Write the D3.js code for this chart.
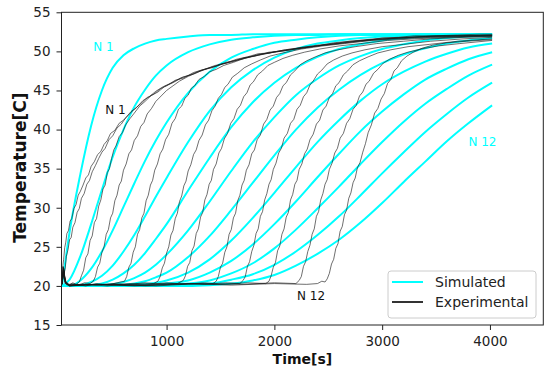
<!DOCTYPE html>
<html>
<head>
<meta charset="utf-8">
<script src="https://cdn.jsdelivr.net/npm/d3@7/dist/d3.min.js"></script>
<style>
body { margin: 0; background: #fff; }
svg { display: block; font-family: "DejaVu Sans", sans-serif; }
</style>
</head>
<body>
<svg id="chart"></svg>
<script>
// ---- data ----
// simulated curves, all on the same time grid
const simTime = [30,100,200,300,400,500,600,700,800,900,1000,1200,1400,1600,1800,2000,2200,2400,2600,2800,3000,3200,3400,3600,3800,4020]
const sim1  = [20.0,26.9,34.3,40.5,45.0,47.9,49.5,50.4,51.0,51.4,51.6,51.9,52.1,52.1,52.2,52.2,52.2,52.2,52.2,52.2,52.2,52.2,52.2,52.2,52.2,52.2]
const sim2  = [20.0,20.8,23.8,27.9,32.3,36.5,40.0,42.9,45.1,46.9,48.2,49.9,50.9,51.5,51.8,52.0,52.1,52.1,52.2,52.2,52.2,52.2,52.2,52.2,52.2,52.2]
const sim3  = [20.0,20.0,20.7,22.2,24.4,27.1,30.1,33.1,36.0,38.6,40.9,44.7,47.4,49.2,50.3,51.1,51.5,51.8,52.0,52.1,52.1,52.1,52.2,52.2,52.2,52.2]
const sim4  = [20.0,20.0,20.1,20.5,21.3,22.6,24.4,26.5,28.9,31.4,33.8,38.4,42.4,45.4,47.6,49.2,50.3,51.0,51.4,51.7,51.9,52.0,52.1,52.1,52.1,52.2]
const sim5  = [20.0,20.0,20.0,20.1,20.3,20.8,21.6,22.7,24.2,26.0,27.9,32.2,36.4,40.3,43.5,46.0,47.9,49.3,50.3,50.9,51.4,51.7,51.9,52.0,52.1,52.1]
const sim6  = [20.0,20.0,20.0,20.0,20.1,20.2,20.5,21.0,21.7,22.7,24.0,27.1,30.8,34.7,38.4,41.6,44.4,46.5,48.2,49.4,50.3,50.9,51.4,51.7,51.9,52.0]
const sim7  = [20.0,20.0,20.0,20.0,20.0,20.0,20.1,20.3,20.6,21.1,21.7,23.7,26.4,29.7,33.2,36.7,40.0,42.8,45.1,47.0,48.5,49.6,50.4,51.0,51.4,51.7]
const sim8  = [20.0,20.0,20.0,20.0,20.0,20.0,20.0,20.1,20.2,20.4,20.7,21.7,23.4,25.8,28.7,31.9,35.2,38.4,41.2,43.7,45.8,47.4,48.7,49.7,50.5,51.0]
const sim9  = [20.0,20.0,20.0,20.0,20.0,20.0,20.0,20.0,20.1,20.1,20.3,20.7,21.7,23.2,25.3,27.9,30.8,33.9,36.9,39.8,42.3,44.5,46.4,47.8,49.0,49.9]
const sim10 = [20.0,20.0,20.0,20.0,20.0,20.0,20.0,20.0,20.0,20.0,20.1,20.3,20.7,21.6,22.9,24.8,27.2,29.9,32.7,35.6,38.4,41.0,43.3,45.2,46.9,48.3]
const sim11 = [20.0,20.0,20.0,20.0,20.0,20.0,20.0,20.0,20.0,20.0,20.0,20.1,20.3,20.8,21.5,22.7,24.4,26.5,28.9,31.6,34.4,37.1,39.7,42.0,44.1,46.0]
const sim12 = [20.0,20.0,20.0,20.0,20.0,20.0,20.0,20.0,20.0,20.0,20.0,20.0,20.1,20.3,20.7,21.4,22.6,24.1,25.9,28.1,30.6,33.3,35.9,38.5,40.8,43.1]

// experimental curves, [time, temperature]
const exp1 = [[30,20.2],[38,22.6],[45,23.4],[55,24.9],[65,25.6],[75,26.7],[90,27.1],[105,28.3],[120,28.6],[140,29.9],[160,30.4],[180,31.6],[200,32.1],[225,32.9],[250,33.8],[275,34.2],[300,35.3],[330,35.9],[360,36.8],[390,37.2],[420,38.1],[450,38.6],[480,39.5],[520,39.9],[560,40.8],[600,41.2],[650,41.9],[700,42.6],[760,43.3],[820,44.1],[880,44.5],[940,45.2],[1000,45.6],[1080,46.3],[1160,46.6],[1250,47.3],[1350,47.7],[1450,48.2],[1550,48.5],[1650,49.0],[1750,49.3],[1850,49.7],[1950,49.8],[2100,50.2],[2250,50.5],[2400,50.7],[2550,51.1],[2700,51.3],[2850,51.5],[3000,51.7],[3150,51.8],[3300,52.0],[3500,52.0],[3700,52.1],[3900,52.2],[4020,52.2]]
const exp2 = [[30,20.3],[40,22.4],[50,21.6],[60,22.3],[70,23.8],[85,24.6],[100,25.9],[115,26.2],[130,27.5],[150,28.1],[170,29.4],[190,29.9],[210,31.2],[235,31.8],[260,33.0],[285,33.5],[310,34.6],[340,35.4],[370,36.3],[400,37.1],[430,37.6],[465,38.7],[500,39.2],[540,40.2],[580,40.7],[620,41.5],[670,42.3],[720,42.8],[780,43.7],[840,44.2],[900,44.9],[970,45.5],[1050,46.0],[1130,46.6],[1220,47.0],[1320,47.6],[1420,47.9],[1520,48.4],[1620,48.7],[1720,49.2],[1820,49.4],[1950,49.9],[2100,50.1],[2250,50.5],[2400,50.8],[2550,51.0],[2700,51.3],[2850,51.4],[3000,51.7],[3200,51.8],[3400,51.9],[3600,52.0],[3800,52.0],[4020,52.1]]
const exp3 = [[30,20.4],[40,22.5],[55,21.2],[70,20.3],[100,20.1],[130,20.4],[160,20.2],[190,20.5],[210,21.3],[230,22.0],[250,23.6],[270,24.1],[290,25.8],[310,26.4],[330,28.1],[350,28.6],[370,30.2],[390,31.0],[410,32.4],[430,32.9],[450,34.5],[470,35.0],[490,36.3],[510,37.4],[530,37.9],[560,39.1],[590,39.6],[620,40.6],[660,41.4],[700,42.1],[750,43.0],[800,43.6],[860,44.4],[920,44.8],[980,45.5],[1060,46.0],[1150,46.7],[1250,47.1],[1350,47.7],[1450,48.1],[1550,48.6],[1700,49.0],[1850,49.6],[2000,49.9],[2200,50.3],[2400,50.7],[2600,51.0],[2800,51.4],[3000,51.6],[3250,51.8],[3500,52.0],[3750,52.0],[4020,52.1]]
const exp4 = [[30,20.2],[42,22.1],[55,20.8],[75,20.1],[120,20.3],[180,20.1],[240,20.4],[290,20.3],[320,20.6],[340,21.2],[360,22.4],[380,22.9],[400,24.3],[420,25.0],[440,26.6],[460,27.2],[480,28.7],[500,29.3],[520,30.9],[540,31.6],[560,32.9],[580,33.4],[600,34.8],[625,35.6],[650,36.9],[675,37.4],[700,38.6],[730,39.2],[760,40.4],[790,40.9],[820,42.0],[860,42.7],[900,43.6],[950,44.3],[1000,45.0],[1060,45.6],[1120,46.2],[1200,46.8],[1300,47.4],[1400,47.9],[1500,48.3],[1650,48.9],[1800,49.4],[1950,49.8],[2100,50.2],[2300,50.5],[2500,50.9],[2700,51.2],[2900,51.5],[3150,51.7],[3400,51.9],[3700,52.0],[4020,52.0]]
const exp5 = [[30,20.3],[45,22.0],[60,20.5],[90,20.1],[150,20.2],[250,20.0],[350,20.3],[450,20.1],[540,20.4],[610,20.6],[630,21.2],[650,22.4],[670,22.9],[690,24.3],[710,25.0],[730,26.6],[750,27.2],[770,28.7],[790,29.3],[810,30.9],[830,31.6],[850,32.9],[870,33.5],[890,34.8],[915,35.6],[940,36.9],[965,37.5],[990,38.7],[1020,39.4],[1050,40.8],[1080,41.4],[1110,42.6],[1140,43.0],[1170,44.0],[1200,44.4],[1230,45.3],[1260,45.6],[1300,46.4],[1350,46.8],[1400,47.4],[1460,47.7],[1530,48.2],[1620,48.6],[1720,49.1],[1850,49.5],[2000,49.9],[2200,50.3],[2400,50.7],[2600,51.0],[2800,51.3],[3050,51.6],[3300,51.8],[3600,51.9],[3800,52.0],[4020,52.0]]
const exp6 = [[30,20.2],[45,21.8],[60,20.4],[100,20.0],[200,20.2],[350,20.1],[500,20.3],[650,20.2],[800,20.4],[880,20.3],[920,20.6],[940,21.2],[960,22.3],[980,22.9],[1000,24.2],[1020,25.0],[1040,26.5],[1060,27.1],[1080,28.6],[1100,29.3],[1120,30.8],[1140,31.5],[1160,32.8],[1180,33.4],[1200,34.7],[1225,35.5],[1250,36.8],[1275,37.4],[1300,38.6],[1330,39.3],[1360,40.6],[1390,41.2],[1420,42.4],[1450,43.0],[1480,44.0],[1510,44.5],[1540,45.4],[1570,45.8],[1610,46.7],[1660,47.2],[1720,47.9],[1790,48.4],[1870,48.9],[1960,49.4],[2080,49.8],[2250,50.3],[2450,50.7],[2650,51.0],[2900,51.4],[3150,51.6],[3450,51.8],[3750,51.9],[4020,52.0]]
const exp7 = [[30,20.3],[45,22.2],[60,20.6],[100,20.1],[250,20.2],[450,20.0],[650,20.3],[850,20.2],[1000,20.4],[1100,20.3],[1155,20.7],[1175,21.3],[1195,22.5],[1215,23.0],[1235,24.5],[1255,25.1],[1275,26.7],[1295,27.3],[1315,28.8],[1335,29.4],[1355,31.0],[1375,31.7],[1395,33.0],[1415,33.5],[1435,34.9],[1460,35.6],[1485,37.0],[1510,37.6],[1535,38.8],[1565,39.5],[1595,40.8],[1625,41.4],[1655,42.6],[1685,43.1],[1715,44.2],[1745,44.7],[1775,45.7],[1805,46.1],[1845,47.0],[1890,47.5],[1940,48.2],[2000,48.6],[2080,49.1],[2170,49.5],[2280,49.9],[2420,50.3],[2600,50.7],[2800,51.0],[3050,51.4],[3300,51.6],[3600,51.8],[3850,51.9],[4020,52.0]]
const exp8 = [[30,20.2],[45,21.9],[60,20.4],[100,20.0],[300,20.2],[600,20.1],[900,20.3],[1150,20.2],[1350,20.4],[1430,20.3],[1460,20.6],[1480,21.2],[1500,22.4],[1520,22.9],[1540,24.3],[1560,25.0],[1580,26.6],[1600,27.2],[1620,28.7],[1640,29.3],[1660,30.9],[1680,31.6],[1700,32.9],[1720,33.5],[1740,34.8],[1765,35.5],[1790,36.9],[1815,37.4],[1840,38.7],[1870,39.3],[1900,40.7],[1930,41.3],[1960,42.5],[1990,43.0],[2020,44.1],[2050,44.6],[2080,45.6],[2110,46.0],[2150,47.0],[2190,47.5],[2240,48.3],[2300,48.8],[2380,49.3],[2470,49.8],[2590,50.2],[2750,50.6],[2950,51.0],[3200,51.3],[3450,51.6],[3750,51.8],[4020,51.9]]
const exp9 = [[30,20.3],[45,22.1],[60,20.5],[100,20.1],[350,20.2],[700,20.0],[1050,20.3],[1350,20.2],[1550,20.4],[1680,20.3],[1710,20.7],[1730,21.2],[1750,22.5],[1770,23.1],[1790,24.4],[1810,25.2],[1830,26.7],[1850,27.3],[1870,28.9],[1890,29.5],[1910,31.0],[1930,31.8],[1950,33.0],[1970,33.6],[1990,34.9],[2015,35.7],[2040,37.0],[2065,37.6],[2090,38.9],[2120,39.5],[2150,40.8],[2180,41.3],[2210,42.6],[2240,43.1],[2270,44.2],[2300,44.7],[2330,45.7],[2360,46.2],[2400,47.1],[2440,47.6],[2490,48.4],[2550,48.9],[2630,49.4],[2720,49.8],[2840,50.2],[3000,50.6],[3200,50.9],[3450,51.3],[3750,51.6],[4020,51.8]]
const exp10 = [[30,20.2],[45,21.7],[60,20.3],[100,20.0],[400,20.2],[800,20.1],[1200,20.3],[1500,20.2],[1750,20.4],[1920,20.3],[1950,20.6],[1970,21.3],[1990,22.4],[2010,23.0],[2030,24.5],[2050,25.1],[2070,26.6],[2090,27.3],[2110,28.8],[2130,29.4],[2150,31.0],[2170,31.7],[2190,33.0],[2210,33.5],[2230,34.9],[2255,35.6],[2280,36.9],[2305,37.5],[2330,38.7],[2360,39.4],[2390,40.7],[2420,41.2],[2450,42.5],[2480,43.0],[2510,44.1],[2540,44.6],[2570,45.6],[2600,46.0],[2640,47.0],[2680,47.5],[2730,48.3],[2790,48.8],[2870,49.3],[2960,49.8],[3080,50.2],[3240,50.6],[3440,50.9],[3700,51.3],[4020,51.6]]
const exp11 = [[30,20.3],[45,22.0],[60,20.4],[100,20.1],[500,20.2],[900,20.0],[1300,20.3],[1700,20.2],[2000,20.4],[2200,20.3],[2230,20.7],[2250,21.2],[2270,22.5],[2290,23.1],[2310,24.4],[2330,25.2],[2350,26.6],[2370,27.3],[2390,28.9],[2410,29.5],[2430,31.0],[2450,31.8],[2470,33.0],[2490,33.6],[2510,34.9],[2535,35.7],[2560,37.0],[2585,37.6],[2610,38.9],[2640,39.5],[2670,40.8],[2700,41.4],[2730,42.6],[2760,43.1],[2790,44.3],[2820,44.8],[2850,45.8],[2880,46.2],[2920,47.2],[2960,47.7],[3010,48.5],[3070,49.0],[3150,49.5],[3240,49.9],[3360,50.3],[3520,50.7],[3720,51.0],[4020,51.4]]
const exp12 = [[30,20.3],[45,22.3],[60,20.6],[100,20.1],[400,20.2],[800,20.0],[1200,20.3],[1600,20.1],[2000,20.3],[2300,20.2],[2400,20.3],[2440,20.6],[2470,20.5],[2490,20.9],[2510,21.6],[2530,22.8],[2550,23.4],[2570,24.8],[2590,25.4],[2610,27.0],[2630,27.6],[2650,29.1],[2670,29.7],[2690,31.2],[2710,31.9],[2730,33.2],[2750,33.8],[2770,35.1],[2795,35.8],[2820,37.1],[2845,38.2],[2870,39.6],[2900,40.6],[2930,42.1],[2960,42.7],[2990,43.9],[3020,44.6],[3050,45.9],[3080,46.4],[3110,47.5],[3140,47.9],[3180,48.8],[3230,49.4],[3290,49.9],[3370,50.4],[3470,50.8],[3600,51.1],[3780,51.3],[4020,51.5]]

const xTicks = [1000, 2000, 3000, 4000]
const yTicks = [15, 20, 25, 30, 35, 40, 45, 50, 55]
const legendLabels = ["Simulated", "Experimental"]
// curve labels in data units [text, time, temp, kind]
const curveLabels = [["N 1", 320, 50.0, "sim"], ["N 1", 430, 42.0, "exp"], ["N 12", 3800, 37.9, "sim"], ["N 12", 2210, 18.2, "exp"]]

const simSeries = [sim1, sim2, sim3, sim4, sim5, sim6, sim7, sim8, sim9, sim10, sim11, sim12]
const expSeries = [exp1, exp2, exp3, exp4, exp5, exp6, exp7, exp8, exp9, exp10, exp11, exp12]

// ---- chart ----
const W = 550, H = 377
const plotLeft = 61.5, plotRight = 543.3, plotTop = 12.3, plotBottom = 325
const CYAN = "#00ffff", DARK = "#1a1a1a"

var svg = d3.select("#chart").attr("width", W).attr("height", H)

var x = d3.scaleLinear().domain([25, 4495]).range([plotLeft, plotRight])
var y = d3.scaleLinear().domain([15, 55]).range([plotBottom, plotTop])

svg.append("clipPath").attr("id", "plotclip")
    .append("rect").attr("x", plotLeft).attr("y", plotTop)
    .attr("width", plotRight - plotLeft).attr("height", plotBottom - plotTop)

var plot = svg.append("g").attr("clip-path", "url(#plotclip)")

var simLine = d3.line()
    .x((d, i) => x(simTime[i]))
    .y(d => y(d))
    .curve(d3.curveMonotoneX)

plot.selectAll("path.sim")
    .data(simSeries)
    .enter()
    .append("path")
    .attr("class", "sim")
    .attr("d", simLine)
    .attr("fill", "none")
    .attr("stroke", CYAN)
    .attr("stroke-width", 2)

var expLine = d3.line()
    .x(d => x(d[0]))
    .y(d => y(d[1]))

plot.selectAll("path.exp")
    .data(expSeries)
    .enter()
    .append("path")
    .attr("class", "exp")
    .attr("d", expLine)
    .attr("fill", "none")
    .attr("stroke", DARK)
    .attr("stroke-opacity", 0.7)
    .attr("stroke-width", 0.9)
    .attr("stroke-linejoin", "round")

// labels on curves
svg.selectAll("text.clabel")
    .data(curveLabels)
    .enter()
    .append("text")
    .attr("class", "clabel")
    .attr("x", d => x(d[1]))
    .attr("y", d => y(d[2]))
    .attr("font-size", 12)
    .attr("fill", d => d[3] == "sim" ? CYAN : "#111")
    .text(d => d[0])

// axes
svg.append("g")
    .attr("transform", "translate(0," + plotBottom + ")")
    .call(d3.axisBottom(x).tickValues(xTicks).tickSize(5).tickPadding(6.5).tickFormat(d3.format("d")))
svg.append("g")
    .attr("transform", "translate(" + plotLeft + ",0)")
    .call(d3.axisLeft(y).tickValues(yTicks).tickSize(5).tickPadding(6).tickFormat(d3.format("d")))

svg.selectAll(".domain").remove()
svg.selectAll(".tick line").attr("stroke", "#222")
svg.selectAll(".tick text")
    .attr("fill", "#222")
    .attr("font-size", 13.5)
    .attr("font-family", "DejaVu Sans, sans-serif")

// frame
svg.append("rect")
    .attr("x", plotLeft).attr("y", plotTop)
    .attr("width", plotRight - plotLeft).attr("height", plotBottom - plotTop)
    .attr("fill", "none")
    .attr("stroke", "#222")
    .attr("stroke-width", 1)

// axis titles
svg.append("text")
    .attr("x", (plotLeft + plotRight) / 2)
    .attr("y", 364)
    .attr("text-anchor", "middle")
    .attr("font-size", 14)
    .attr("font-weight", "bold")
    .attr("fill", "#111")
    .text("Time[s]")

svg.append("text")
    .attr("transform", "translate(26," + ((plotTop + plotBottom) / 2 - 1) + ") rotate(-90)")
    .attr("text-anchor", "middle")
    .attr("font-size", 17)
    .attr("font-weight", "bold")
    .attr("fill", "#111")
    .text("Temperature[C]")

// legend
var legend = svg.append("g").attr("transform", "translate(388,271)")
legend.append("rect")
    .attr("width", 148).attr("height", 47)
    .attr("rx", 3)
    .attr("fill", "#fff").attr("fill-opacity", 0.85)
    .attr("stroke", "#cccccc")

legend.selectAll("line")
    .data(legendLabels)
    .enter()
    .append("line")
    .attr("x1", 4).attr("x2", 35)
    .attr("y1", (d, i) => 11 + i * 20)
    .attr("y2", (d, i) => 11 + i * 20)
    .attr("stroke", (d, i) => i == 0 ? CYAN : "#333")
    .attr("stroke-width", 2)

legend.selectAll("text")
    .data(legendLabels)
    .enter()
    .append("text")
    .attr("x", 47)
    .attr("y", (d, i) => 16 + i * 20)
    .attr("font-size", 14)
    .attr("fill", "#222")
    .text(d => d)
</script>
</body>
</html>
